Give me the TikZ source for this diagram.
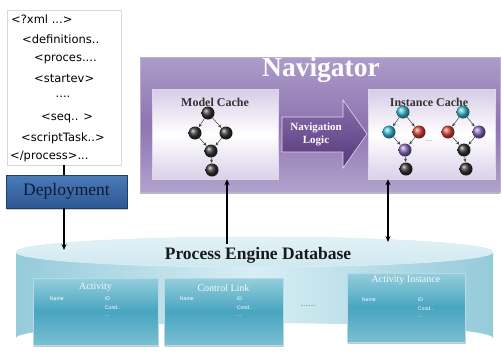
\documentclass[tikz,border=0pt]{standalone}
\usepackage{fontspec}
\setmainfont{Liberation Serif}
\newfontfamily\xmlfont{DejaVu Sans}
\newfontfamily\fieldfont{Liberation Sans}
\usetikzlibrary{arrows.meta,shadows,calc}
\definecolor{navtop}{HTML}{AD9CCA}
\definecolor{navmid}{HTML}{8E74B1}
\definecolor{navbot}{HTML}{B1A2CD}
\definecolor{cachetop}{HTML}{D6CCE6}
\definecolor{cachebot}{HTML}{DAD1E9}
\definecolor{arrtop}{HTML}{8A6FAE}
\definecolor{arrbot}{HTML}{55377A}
\definecolor{cylside}{HTML}{95CBDA}
\definecolor{cylmid}{HTML}{D8EEF4}
\definecolor{cyltop}{HTML}{E3F2F6}
\definecolor{tbltop}{HTML}{95CEDC}
\definecolor{tblmid}{HTML}{48A5C0}
\definecolor{tblbot}{HTML}{7BBFD2}
\definecolor{deptop}{HTML}{4A7BBA}
\definecolor{depbot}{HTML}{2E5893}
\definecolor{deptext}{HTML}{0C1A35}
\definecolor{gcyan}{HTML}{3FBAD6}
\definecolor{gred}{HTML}{D9453D}
\definecolor{gpurple}{HTML}{8A6BC0}
\begin{document}
\begin{tikzpicture}[x=1pt,y=-1pt,
  xmlline/.style={font=\xmlfont\fontsize{11.5}{13}\selectfont, anchor=west, inner sep=0},
  xmlbox/.style={draw=black!15, fill=white, minimum width=114pt, minimum height=155pt, inner sep=0,
    drop shadow={shadow xshift=1pt, shadow yshift=-1pt, opacity=0.25}},
  depbox/.style={draw=depbot!70!black, top color=deptop, bottom color=depbot, minimum width=121pt,
    minimum height=33pt, inner sep=0, font=\fontsize{17.5}{19}\selectfont, text=deptext,
    drop shadow={shadow xshift=1pt, shadow yshift=-1.5pt, opacity=0.4}},
  navbox/.style={draw=navtop!80!white, top color=navtop, bottom color=navbot, middle color=navmid,
    minimum width=360pt, minimum height=135pt, inner sep=0,
    drop shadow={shadow xshift=0pt, shadow yshift=-2pt, opacity=0.55}},
  cache/.style={draw=white!60!navtop, line width=0.5pt, top color=cachetop, bottom color=cachebot,
    middle color=white, minimum width=126pt, minimum height=90pt, inner sep=0},
  cachelabel/.style={font=\bfseries\fontsize{12}{14}\selectfont, text=black!80, inner sep=0},
  gnode/.style={circle, minimum size=13pt, inner sep=0},
  gblack/.style={gnode, ball color=black!80},
  gcy/.style={gnode, ball color=gcyan},
  grd/.style={gnode, ball color=gred},
  gpu/.style={gnode, ball color=gpurple},
  gedge/.style={-{Stealth[length=3.5pt,width=3pt]}, line width=0.5pt, black!75, shorten >=0.3pt},
  tbl/.style={draw=white!60!tblmid, line width=0.5pt, top color=tbltop, bottom color=tblbot,
    middle color=tblmid, inner sep=0, drop shadow={shadow xshift=1pt, shadow yshift=-1.5pt, opacity=0.45}},
  tbltitle/.style={font=\fontsize{10}{11}\selectfont, text=white!92!tbltop, inner sep=0},
  field/.style={font=\fieldfont\fontsize{5.2}{6}\selectfont, text=white, anchor=west, inner sep=0},
  conn/.style={line width=1.2pt, black},
  tip/.style={-{Stealth[length=6pt,width=5pt]}},
]
\useasboundingbox (0,0) rectangle (502,356);

% ---------- XML box and deployment
\node[xmlbox] (xml) at (64,87.5) {};
\node[xmlline] (x1) at (11,19) {<?xml ...>};
\node[xmlline] (x2) at (22,39) {<definitions..};
\node[xmlline] (x3) at (34,59) {<proces....};
\node[xmlline] (x4) at (34,79) {<startev>};
\node[xmlline, anchor=center] (x5) at (63,97) {....};
\node[xmlline] (x6) at (41,118) {<seq.. >};
\node[xmlline] (x7) at (21,138) {<scriptTask..>};
\node[xmlline] (x8) at (10,157) {</process>...};

\node[depbox] (dep) at (66.5,191.5) {Deployment};

% ---------- Cylinder (database)
\shade[left color=cylside, right color=cylside, middle color=cylmid]
  (16,252) -- (16,338) arc[start angle=180, end angle=360, x radius=238.5pt, y radius=-15pt]
  -- (493,252) arc[start angle=0, end angle=180, x radius=238.5pt, y radius=15pt] -- cycle;
\shade[top color=cyltop, bottom color=cylmid!85!cylside]
  (254.5,252) ellipse[x radius=238.5pt, y radius=15pt];
\draw[white!70!cylside, line width=0.6pt] (254.5,252) ellipse[x radius=238.5pt, y radius=15pt];
\node[font=\bfseries\fontsize{17.5}{19}\selectfont, text=black!90, inner sep=0] (dbtitle) at (258,255) {Process Engine Database};

\coordinate (dbL) at (64,250);
\coordinate (dbM) at (227,244);
\coordinate (dbR) at (388,242);

% tables
\node[tbl, minimum width=125pt, minimum height=67pt] (act) at (95.5,311.5) {};
\node[tbl, minimum width=119pt, minimum height=67pt] (cl) at (223.5,311.5) {};
\node[tbl, minimum width=118pt, minimum height=69pt] (ai) at (406,307.5) {};

\node[tbltitle] (actt) at ($(act.north)+(0,10)$) {Activity};
\node[field] (actn) at ($(act.north west)+(17,21)$) {Name};
\node[field] (acti) at ($(act.north west)+(72,21)$) {ID};
\node[field] (actc) at ($(act.north west)+(72,29.5)$) {Cond..};
\node[field] (actd) at ($(act.north west)+(72,38)$) {...};

\node[tbltitle] (clt) at ($(cl.north)+(0,10)$) {Control Link};
\node[field] (cln) at ($(cl.north west)+(16,21)$) {Name};
\node[field] (cli) at ($(cl.north west)+(73,21)$) {ID};
\node[field] (clc) at ($(cl.north west)+(73,29.5)$) {Cond..};
\node[field] (cld) at ($(cl.north west)+(73,38)$) {...};

\node[font=\fieldfont\fontsize{6}{7}\selectfont, text=black!70, inner sep=0] (dots) at (308,306) {.........};

\node[tbltitle] (ait) at ($(ai.north)+(0,8)$) {Activity Instance};
\node[field] (ain) at ($(ai.north west)+(15,27)$) {Name};
\node[field] (aii) at ($(ai.north west)+(71,27)$) {ID};
\node[field] (aic) at ($(ai.north west)+(71,35.5)$) {Cond..};
\node[field] (aid) at ($(ai.north west)+(71,44)$) {...};

% ---------- Navigator
\node[navbox] (nav) at (320,124.5) {};
\node[font=\bfseries\fontsize{27.5}{30}\selectfont, text=white, inner sep=0] (navt) at (321,70) {Navigator};

\node[cache] (mc) at (215,134) {};
\node[cache, minimum width=127pt] (ic) at (431.5,134) {};
\node[cachelabel] (mcl) at (215,102) {Model Cache};
\node[cachelabel] (icl) at (429,102) {Instance Cache};

% navigation logic arrow
\coordinate (a1) at (282,117);
\coordinate (a2) at (343,117);
\coordinate (a3) at (343,100);
\coordinate (a4) at (367,134);
\coordinate (a5) at (343,168);
\coordinate (a6) at (343,152);
\coordinate (a7) at (282,152);
\draw[draw=white!65!navtop, line width=0.6pt, top color=arrtop, bottom color=arrbot]
  (a1) -- (a2) -- (a3) -- (a4) -- (a5) -- (a6) -- (a7) -- cycle;
\node[font=\bfseries\fontsize{11}{13}\selectfont, text=white, align=center, inner sep=0] (nlog) at (316,134.5) {Navigation\\Logic};

% model cache graph
\node[gblack] (m1) at (208,113) {};
\node[gblack] (m2) at (195,133) {};
\node[gblack] (m3) at (226,133) {};
\node[gblack] (m4) at (211,151) {};
\node[gblack] (m5) at (212,170) {};
\draw[gedge] (m1) -- (m2);
\draw[gedge] (m1) -- (m3);
\draw[gedge] (m2) -- (m4);
\draw[gedge] (m3) -- (m4);
\draw[gedge] (m4) -- (m5);

% instance cache graphs
\node[gcy] (i1) at (403,112) {};
\node[gcy] (i2) at (389,132) {};
\node[grd] (i3) at (419,132) {};
\node[gpu] (i4) at (405,150) {};
\node[gblack] (i5) at (406,169) {};
\draw[gedge] (i1) -- (i2);
\draw[gedge] (i1) -- (i3);
\draw[gedge] (i2) -- (i4);
\draw[gedge] (i3) -- (i4);
\draw[gedge] (i4) -- (i5);
\node[font=\fieldfont\fontsize{6}{7}\selectfont, text=black!60, inner sep=0] (idots) at (429,141) {....};

\node[gcy] (j1) at (463,112) {};
\node[grd] (j2) at (448,132) {};
\node[gpu] (j3) at (479,132) {};
\node[gblack] (j4) at (464,150) {};
\node[gblack] (j5) at (466,169) {};
\draw[gedge] (j1) -- (j2);
\draw[gedge] (j1) -- (j3);
\draw[gedge] (j2) -- (j4);
\draw[gedge] (j3) -- (j4);
\draw[gedge] (j4) -- (j5);

% ---------- connectors
\draw[conn] (xml.south) -- (xml.south |- dep.north);
\draw[conn, tip] (xml.south |- dep.south) -- (dbL);
\draw[conn, tip] (dbM) -- (dbM |- mc.south);
\draw[conn, {Stealth[length=6pt,width=5pt]}-{Stealth[length=6pt,width=5pt]}] (ic.south -| dbR) -- (dbR);
\end{tikzpicture}
\end{document}
